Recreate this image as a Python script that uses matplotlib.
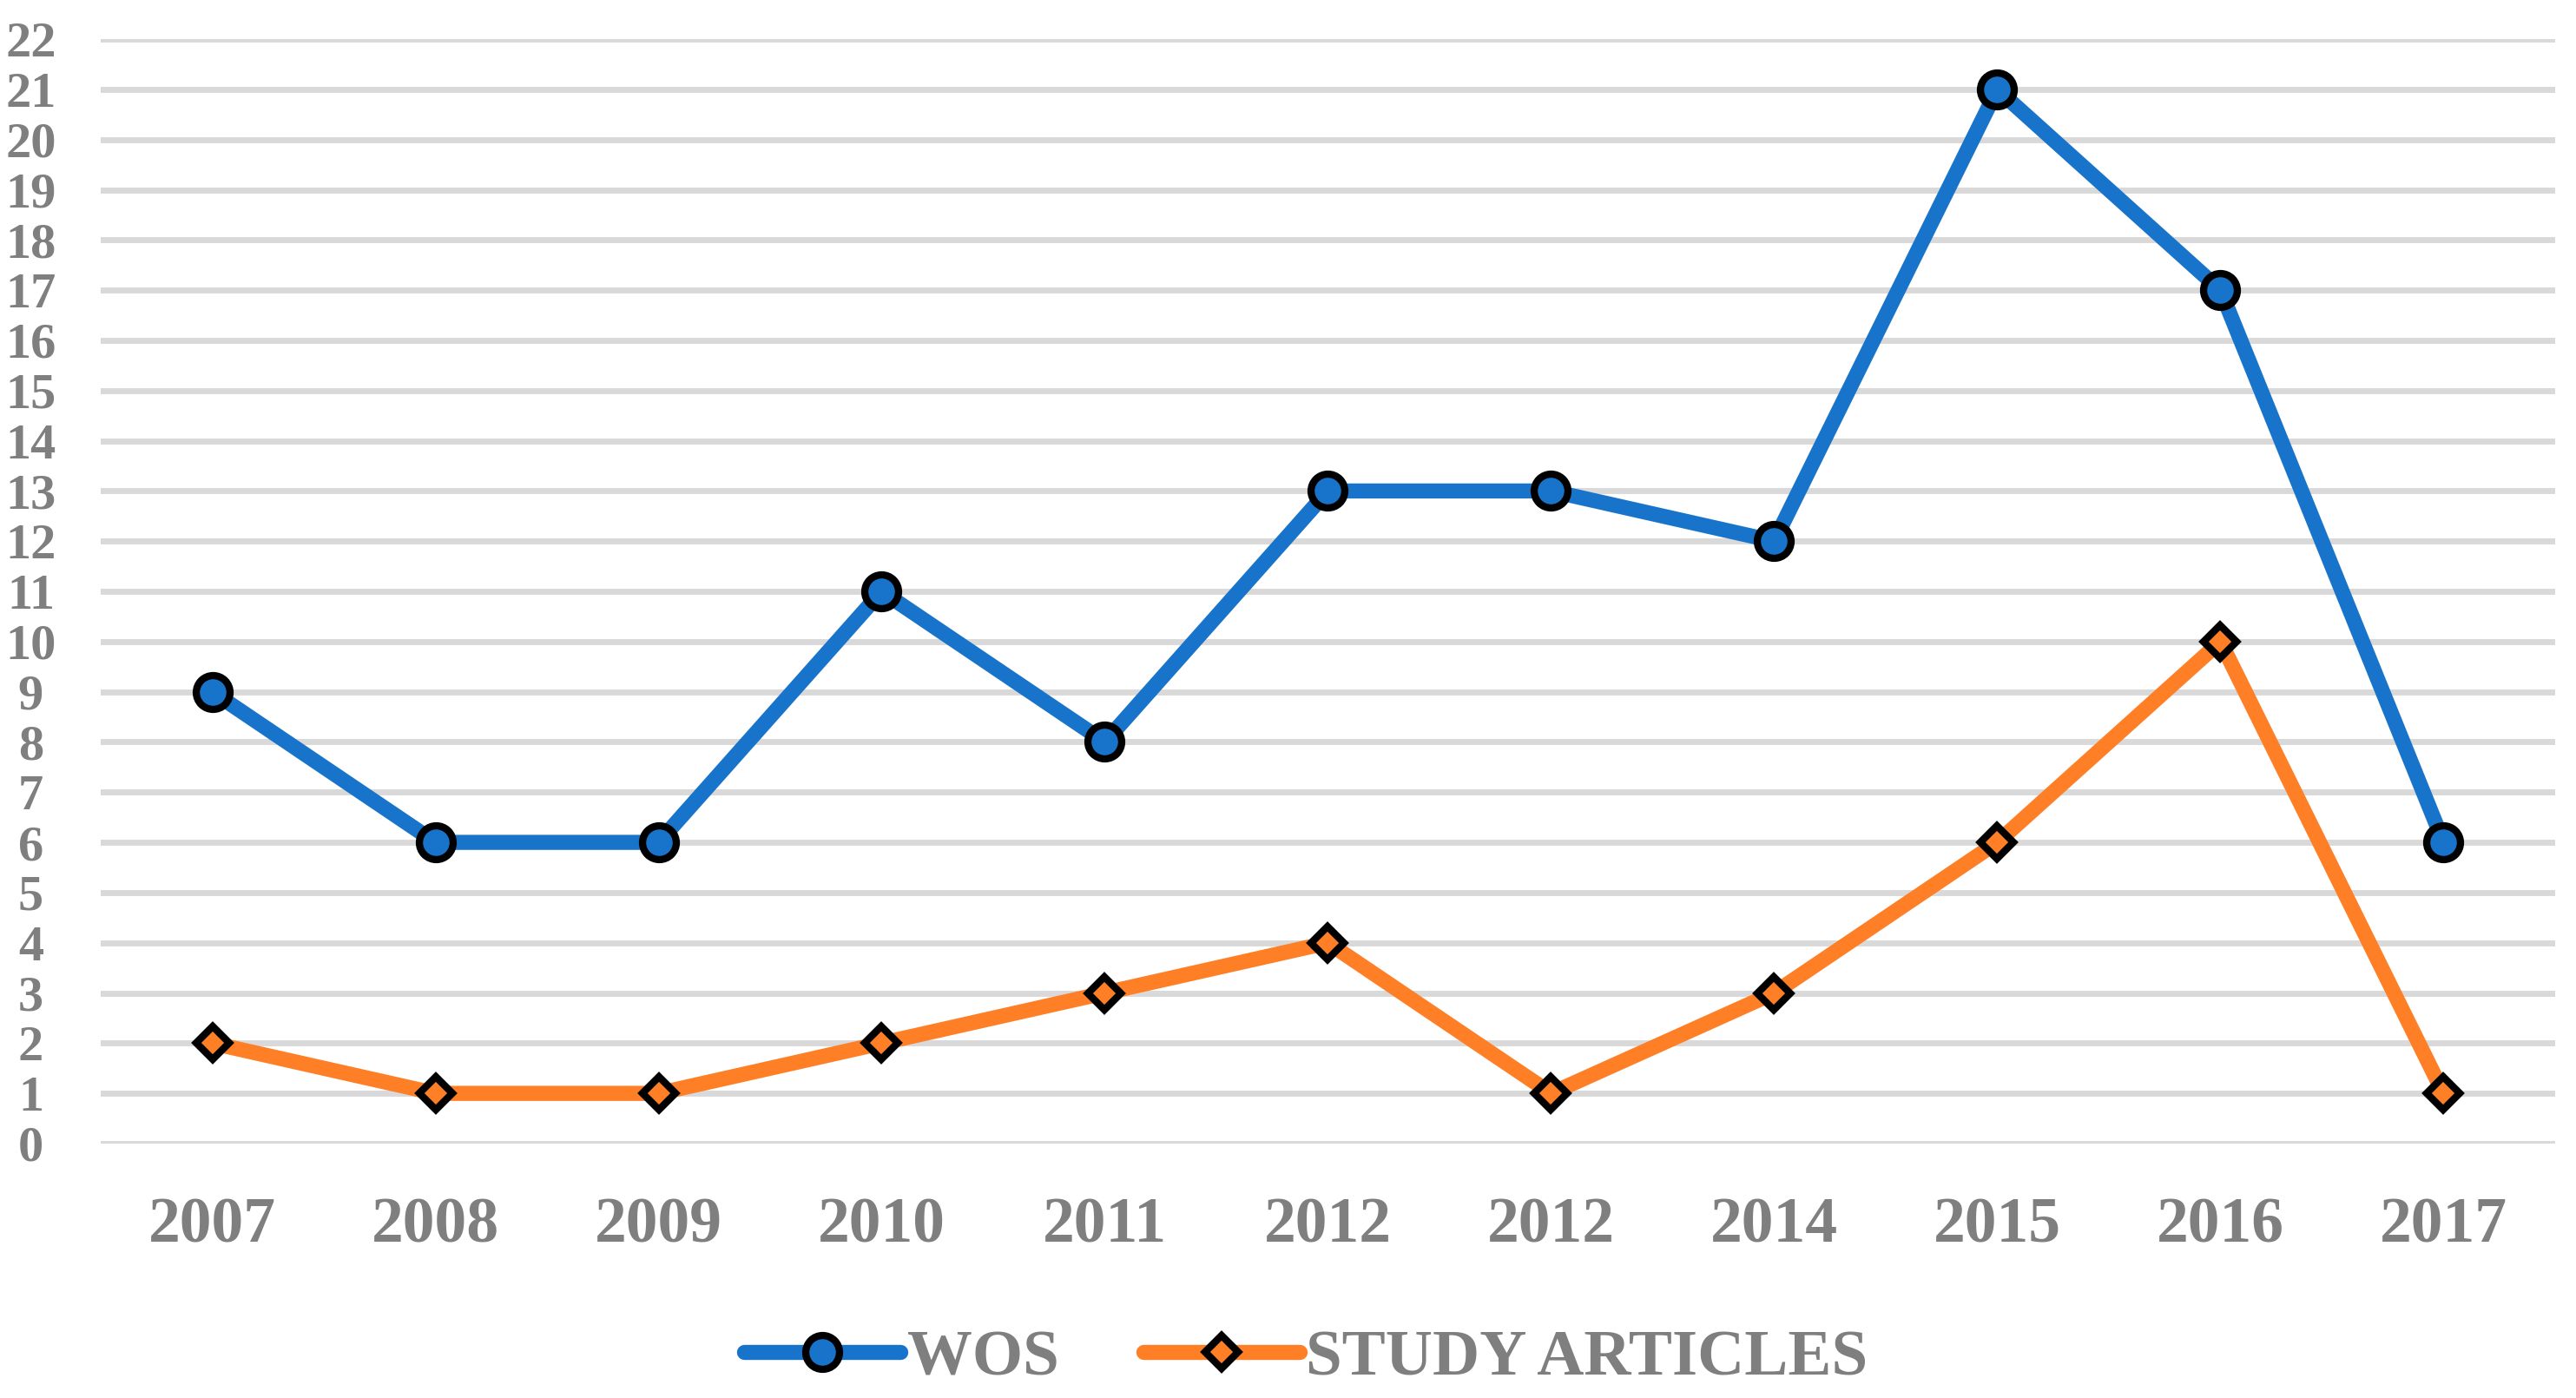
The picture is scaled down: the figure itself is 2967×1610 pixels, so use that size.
import matplotlib.pyplot as plt
from matplotlib.lines import Line2D

# Data
years = ["2007", "2008", "2009", "2010", "2011", "2012", "2012", "2014", "2015", "2016", "2017"]
wos = [9, 6, 6, 11, 8, 13, 13, 12, 21, 17, 6]
study_articles = [2, 1, 1, 2, 3, 4, 1, 3, 6, 10, 1]

BLUE = "#1874CA"
ORANGE = "#FF7F27"
GRID = "#D9D9D9"
TEXT = "#7F7F7F"

LW = 12.5
MEW = 6

fig = plt.figure(figsize=(29.67, 16.10), dpi=100)
ax = fig.add_axes([0.0391, 0.182, 0.9528, 0.790])

x = range(len(years))
ax.plot(x, wos, color=BLUE, lw=LW, marker="o", ms=28, mfc=BLUE, mec="black",
        mew=MEW, solid_joinstyle="round", clip_on=False, zorder=3)
ax.plot(x, study_articles, color=ORANGE, lw=LW, marker="D", ms=19, mfc=ORANGE,
        mec="black", mew=MEW, solid_joinstyle="round", clip_on=False, zorder=3)

ax.set_xlim(-0.5, len(years) - 0.5)
ax.set_ylim(0, 22)
ax.set_yticks(range(0, 23))
ax.set_xticks(list(x))
ax.set_xticklabels(years)
ax.grid(axis="y", color=GRID, lw=5)
ax.set_axisbelow(True)
for s in ax.spines.values():
    s.set_visible(False)

ax.tick_params(axis="both", length=0)
ax.tick_params(axis="x", pad=44)
ax.tick_params(axis="y", pad=58)
for lab in ax.get_yticklabels():
    lab.set_fontfamily("Liberation Serif")
    lab.set_fontweight("bold")
    lab.set_fontsize(42)
    lab.set_color(TEXT)
    lab.set_horizontalalignment("center")
for lab in ax.get_xticklabels():
    lab.set_fontfamily("Liberation Serif")
    lab.set_fontweight("bold")
    lab.set_fontsize(53)
    lab.set_color(TEXT)

handles = [
    Line2D([], [], color=BLUE, lw=LW, marker="o", ms=28, mfc=BLUE, mec="black",
           mew=MEW, solid_capstyle="round"),
    Line2D([], [], color=ORANGE, lw=LW, marker="D", ms=19, mfc=ORANGE, mec="black",
           mew=MEW, solid_capstyle="round"),
]
leg = fig.legend(handles, ["WOS", "STUDY ARTICLES"], loc="center",
                 bbox_to_anchor=(0.507, 0.028), ncol=2, frameon=False,
                 prop={"family": "Liberation Serif", "size": 54, "weight": "bold"},
                 handlelength=2.4, handletextpad=0.1, columnspacing=1.3)
for t in leg.get_texts():
    t.set_color(TEXT)

fig.savefig("out.png", dpi=100)
